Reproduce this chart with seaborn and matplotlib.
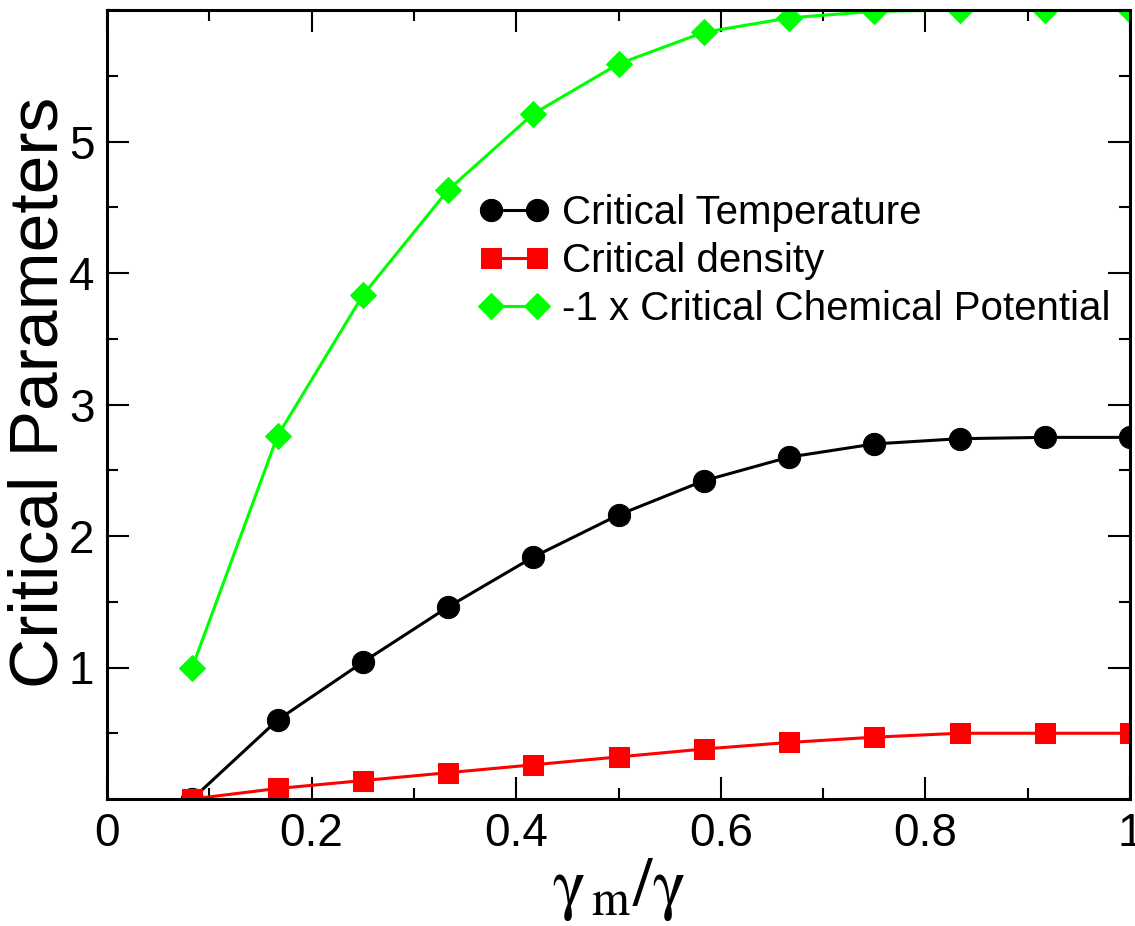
import numpy as np
import pandas as pd
import matplotlib
matplotlib.use("Agg")
import matplotlib.pyplot as plt
import seaborn as sns
from matplotlib.ticker import MultipleLocator, FixedLocator, FixedFormatter

# data
gamma_ratio = [1/12, 2/12, 3/12, 4/12, 5/12, 6/12, 7/12, 8/12, 9/12, 10/12, 11/12, 12/12]
crit_temperature = [0.0, 0.60, 1.04, 1.46, 1.84, 2.16, 2.42, 2.60, 2.70, 2.74, 2.75, 2.75]
crit_density = [0.0, 0.08, 0.14, 0.20, 0.26, 0.32, 0.38, 0.43, 0.47, 0.50, 0.50, 0.50]
crit_chem_pot = [1.0, 2.76, 3.83, 4.63, 5.21, 5.59, 5.83, 5.94, 5.99, 6.0, 6.0, 6.0]

series_labels = ["Critical Temperature", "Critical density", "-1 x Critical Chemical Potential"]

x_ticks = [0, 0.2, 0.4, 0.6, 0.8, 1.0]
x_ticklabels = ["0", "0.2", "0.4", "0.6", "0.8", "1"]
y_ticks = [1, 2, 3, 4, 5]
y_ticklabels = ["1", "2", "3", "4", "5"]

sns.set_style("ticks")
plt.rcParams["font.family"] = ["Liberation Sans", "DejaVu Sans"]
plt.rcParams["mathtext.fontset"] = "stix"
plt.rcParams["text.color"] = "black"
plt.rcParams["axes.labelcolor"] = "black"
plt.rcParams["xtick.color"] = "black"
plt.rcParams["ytick.color"] = "black"

fig = plt.figure(figsize=(11.35, 9.26), dpi=100)
ax = fig.add_axes([107/1135, 1 - 799/926, 1023/1135, 789/926])

df = pd.DataFrame({
    "x": gamma_ratio,
    series_labels[0]: crit_temperature,
    series_labels[1]: crit_density,
    series_labels[2]: crit_chem_pot,
})

styles = [("black", "o", 16), ("#ff0000", "s", 14), ("#00ff00", "D", 13.5)]
for lab, (col, mk, ms) in zip(series_labels, styles):
    sns.lineplot(data=df, x="x", y=lab, ax=ax, color=col, marker=mk, markersize=ms,
                 markeredgecolor=col, linewidth=2.2, label=lab)

ax.set_xlim(0, 1)
ax.set_ylim(0, 6)
ax.xaxis.set_major_locator(FixedLocator(x_ticks))
ax.xaxis.set_major_formatter(FixedFormatter(x_ticklabels))
ax.xaxis.set_minor_locator(MultipleLocator(0.1))
ax.yaxis.set_major_locator(FixedLocator(y_ticks))
ax.yaxis.set_major_formatter(FixedFormatter(y_ticklabels))
ax.yaxis.set_minor_locator(MultipleLocator(0.5))

ax.tick_params(which="both", direction="in", top=True, right=True, labelsize=33,
               color="black", labelcolor="black")
ax.tick_params(which="major", length=16, width=1.5, pad=9)
ax.tick_params(which="minor", length=8, width=1.5)
for sp in ax.spines.values():
    sp.set_linewidth(2.2)
    sp.set_color("black")

ax.set_ylabel("Critical Parameters", fontsize=50, color="black")
ax.yaxis.set_label_coords(-0.035, 0.516)
ax.set_xlabel(r"$\mathrm{\gamma}_{\,\mathrm{m}}/\mathrm{\gamma}$", fontsize=50, color="black")
ax.xaxis.set_label_coords(0.5, -0.072)

ax.legend(loc="upper left", bbox_to_anchor=(479/1135, 1 - 194/926), bbox_transform=fig.transFigure,
          frameon=False, fontsize=29, numpoints=2, handlelength=1.75, handletextpad=0.3,
          labelspacing=0.25, borderpad=0, borderaxespad=0, labelcolor="black")

fig.savefig("out.png", dpi=100)
